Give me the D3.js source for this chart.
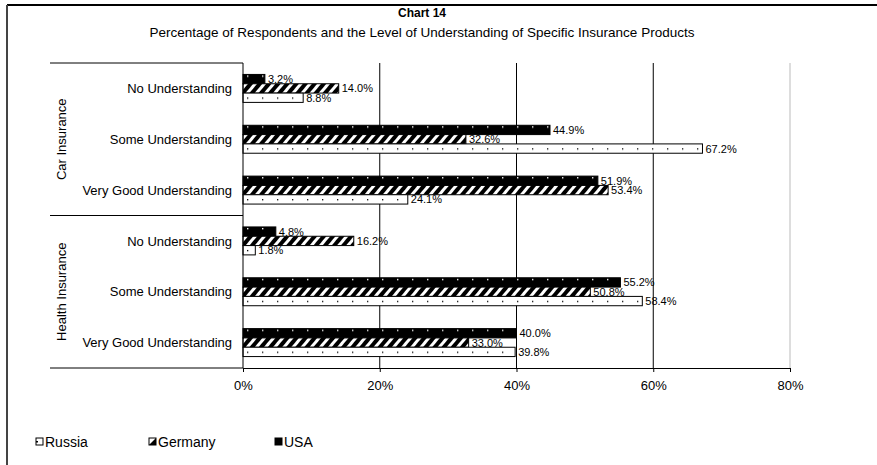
<!DOCTYPE html>
<html>
<head>
<meta charset="utf-8">
<script src="https://cdn.jsdelivr.net/npm/d3@7"></script>
<style>
  body { margin: 0; background: #fff; }
  svg text { font-family: "Liberation Sans", Arial, sans-serif; fill: #000; }
</style>
</head>
<body>
<div id="chart"></div>
<script>
// data
const groups = ["Car Insurance", "Health Insurance"];
const levels = ["No Understanding", "Some Understanding", "Very Good Understanding"];
const series = ["USA", "Germany", "Russia"];
const usaValues = [3.2, 44.9, 51.9, 4.8, 55.2, 40.0];
const germanyValues = [14.0, 32.6, 53.4, 16.2, 50.8, 33.0];
const russiaValues = [8.8, 67.2, 24.1, 1.8, 58.4, 39.8];
const xTicks = [0, 20, 40, 60, 80];
const legendOrder = ["Russia", "Germany", "USA"];

const width = 877, height = 465;
const plot = { left: 243, right: 790, top: 63, bottom: 368 };

// one row per category (group + level)
const rows = [];
groups.forEach((g, gi) => {
  levels.forEach((l, li) => {
    const i = gi * levels.length + li;
    rows.push({ key: g + "|" + l, group: g, level: l,
      values: { USA: usaValues[i], Germany: germanyValues[i], Russia: russiaValues[i] } });
  });
});

const svg = d3.select("#chart").append("svg")
  .attr("width", width).attr("height", height);

// patterns
const defs = svg.append("defs");
const pUsa = defs.append("pattern").attr("id", "pat-usa")
  .attr("patternUnits", "userSpaceOnUse").attr("width", 15).attr("height", 9);
pUsa.append("rect").attr("width", 15).attr("height", 9).attr("fill", "#000");
pUsa.append("rect").attr("x", 7).attr("y", 1).attr("width", 1.4).attr("height", 1.4).attr("fill", "#fff");

const pGer = defs.append("pattern").attr("id", "pat-ger")
  .attr("patternUnits", "userSpaceOnUse").attr("width", 7).attr("height", 7)
  .attr("patternTransform", "rotate(40)");
pGer.append("rect").attr("width", 7).attr("height", 7).attr("fill", "#fff");
pGer.append("rect").attr("width", 4).attr("height", 7).attr("fill", "#000");

const pRus = defs.append("pattern").attr("id", "pat-rus")
  .attr("patternUnits", "userSpaceOnUse").attr("width", 15).attr("height", 9);
pRus.append("rect").attr("width", 15).attr("height", 9).attr("fill", "#fff");
pRus.append("rect").attr("x", 7).attr("y", 5).attr("width", 1.3).attr("height", 1.3).attr("fill", "#000");

const fills = { USA: "url(#pat-usa)", Germany: "url(#pat-ger)", Russia: "url(#pat-rus)" };

// outer frame (top and left edges visible)
svg.append("line").attr("x1", 7).attr("x2", width).attr("y1", 5).attr("y2", 5)
  .attr("stroke", "#000").attr("stroke-width", 2);
svg.append("line").attr("x1", 7).attr("x2", 7).attr("y1", 5).attr("y2", height)
  .attr("stroke", "#444").attr("stroke-width", 2);

// titles
svg.append("text").attr("x", 422).attr("y", 17).attr("text-anchor", "middle")
  .style("font-size", "12px").style("font-weight", "bold").text("Chart 14");
svg.append("text").attr("x", 422).attr("y", 37).attr("text-anchor", "middle")
  .style("font-size", "13.5px")
  .text("Percentage of Respondents and the Level of Understanding of Specific Insurance Products");

// scales
const x = d3.scaleLinear().domain([0, 80]).range([plot.left, plot.right]);
const y = d3.scaleBand().domain(rows.map(d => d.key)).range([plot.top, plot.bottom])
  .paddingInner(0.45).paddingOuter(0.225);
const ySeries = d3.scaleBand().domain(series).range([0, y.bandwidth()]);

// gridlines
svg.append("g").selectAll("line").data(xTicks.slice(1)).join("line")
  .attr("x1", d => x(d)).attr("x2", d => x(d))
  .attr("y1", plot.top).attr("y2", plot.bottom)
  .attr("stroke", d => d === 80 ? "#bbb" : "#000").attr("stroke-width", 1);

// bars
const rowG = svg.append("g").selectAll("g").data(rows).join("g")
  .attr("transform", d => `translate(0,${y(d.key)})`);

rowG.selectAll("rect").data(d => series.map(s => ({ s, v: d.values[s] }))).join("rect")
  .attr("x", x(0))
  .attr("y", d => ySeries(d.s))
  .attr("width", d => x(d.v) - x(0))
  .attr("height", ySeries.bandwidth())
  .attr("fill", d => fills[d.s])
  .attr("stroke", "#000").attr("stroke-width", 1);

rowG.selectAll("text").data(d => series.map(s => ({ s, v: d.values[s] }))).join("text")
  .attr("x", d => x(d.v) + 3)
  .attr("y", d => ySeries(d.s) + ySeries.bandwidth() / 2)
  .attr("dy", "0.36em")
  .style("font-size", "11px")
  .text(d => d.v.toFixed(1) + "%");

// x axis
const xAxis = svg.append("g").attr("transform", `translate(0,${plot.bottom})`)
  .call(d3.axisBottom(x).tickValues(xTicks).tickFormat(d => d + "%").tickSize(4).tickPadding(9));
xAxis.select(".domain").attr("stroke", "#000");
xAxis.selectAll(".tick line").attr("stroke", "#000");
xAxis.selectAll("text").style("font-size", "13px").attr("font-family", null);

// category axis: vertical line, group separators
svg.append("line").attr("x1", plot.left).attr("x2", plot.left)
  .attr("y1", plot.top).attr("y2", plot.bottom).attr("stroke", "#000");
const sepY = [plot.top, y(rows[3].key) - y.step() * y.paddingInner() / 2, plot.bottom];
svg.append("g").selectAll("line").data(sepY).join("line")
  .attr("x1", 50).attr("x2", plot.left).attr("y1", d => d).attr("y2", d => d)
  .attr("stroke", "#000");

svg.append("g").selectAll("text").data(rows).join("text")
  .attr("x", 232).attr("y", d => y(d.key) + y.bandwidth() / 2)
  .attr("dy", "0.36em").attr("text-anchor", "end")
  .style("font-size", "13px").text(d => d.level);

svg.append("g").selectAll("text").data(groups).join("text")
  .attr("transform", (g, gi) => {
    const cy = (sepY[gi] + sepY[gi + 1]) / 2;
    return `translate(66,${cy}) rotate(-90)`;
  })
  .attr("text-anchor", "middle")
  .style("font-size", "13px").text(d => d);

// legend
const legendX = [36, 149, 275];
const leg = svg.append("g").selectAll("g").data(legendOrder).join("g")
  .attr("transform", (d, i) => `translate(${legendX[i]},442)`);
leg.append("rect").attr("x", 0).attr("y", -4).attr("width", 7).attr("height", 7)
  .attr("fill", d => d === "USA" ? "#000" : "#fff").attr("stroke", "#000");
leg.filter(d => d === "Germany").append("path")
  .attr("d", "M0,3 L7,-4 L7,3 Z").attr("fill", "#000");
leg.filter(d => d === "Russia").append("rect")
  .attr("x", 0).attr("y", -1).attr("width", 2).attr("height", 1.5).attr("fill", "#000");
leg.append("text").attr("x", 9).attr("y", 0).attr("dy", "0.36em")
  .style("font-size", "14px").text(d => d);
</script>
</body>
</html>
